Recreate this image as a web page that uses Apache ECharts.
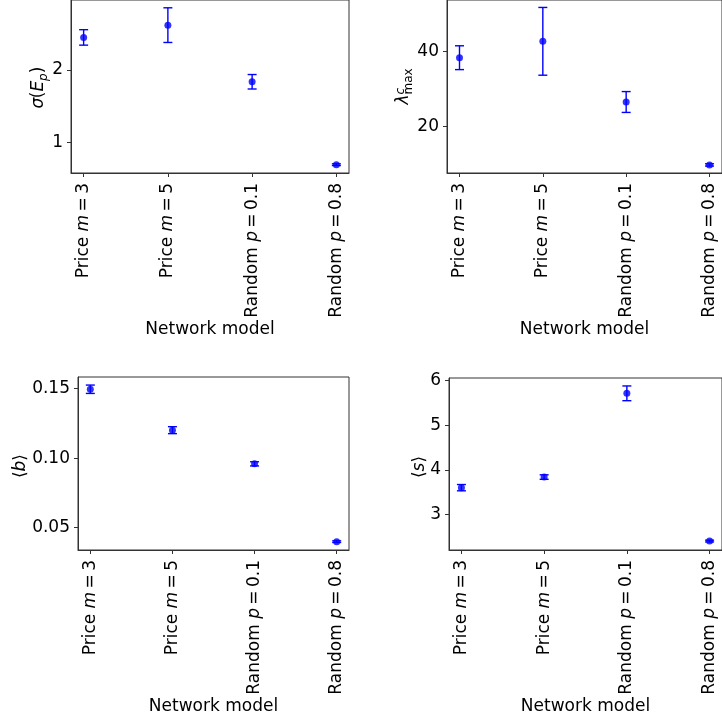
<!DOCTYPE html>
<html>
<head>
<meta charset="utf-8">
<script src="https://cdn.jsdelivr.net/npm/echarts@6/dist/echarts.min.js"></script>
<style>html,body{margin:0;padding:0;background:#fff;}#c{width:722px;height:719px;}</style>
</head>
<body>
<div id="c"></div>
<script>
// ---- data ----
const categories = ['Price m = 3', 'Price m = 5', 'Random p = 0.1', 'Random p = 0.8'];
const sigmaEp = [2.452, 2.622, 1.838, 0.69];
const sigmaEpErr = [0.107, 0.24, 0.10, 0.012];
const lambdaMax = [38.4, 42.8, 26.5, 9.6];
const lambdaMaxErr = [3.2, 9.1, 2.8, 0.3];
const meanB = [0.1495, 0.1201, 0.0959, 0.0400];
const meanBErr = [0.003, 0.0025, 0.0015, 0.0006];
const meanS = [3.605, 3.843, 5.717, 2.41];
const meanSErr = [0.07, 0.05, 0.165, 0.02];
const xTicks = [0, 1, 2, 3];
const sigmaTicks = [1, 2];
const lambdaTicks = [20, 40];
const bTicks = [0.05, 0.10, 0.15];
const sTicks = [3, 4, 5, 6];
const xLabel = 'Network model';

// ---- chart ----
const FONT = 'DejaVu Sans';
const BLUE = '#0000ff';
const AX = '#333333';

function catFmt(v) {
  const s = categories[Math.round(v)];
  const m = s.match(/^(\S+) (\S) = (.*)$/);
  return '{n|' + m[1] + ' }{i|' + m[2] + '}{n|\u2009=\u2009' + m[3] + '}';
}
const catRich = {
  n: {fontFamily: FONT, fontSize: 17, color: '#000'},
  i: {fontFamily: FONT, fontSize: 17, fontStyle: 'italic', color: '#000'}
};

const grids = [
  {left: 71, top: 0, width: 278, height: 173},
  {left: 447, top: 0, width: 284, height: 173},
  {left: 78, top: 377, width: 271, height: 173},
  {left: 449, top: 378, width: 282, height: 172}
];
const yCfg = [
  {min: 0.575, max: 2.97, ticks: sigmaTicks, fmt: v => String(Math.round(v))},
  {min: 7.43, max: 53.9, ticks: lambdaTicks, fmt: v => String(Math.round(v))},
  {min: 0.034, max: 0.1583, ticks: bTicks, fmt: v => v.toFixed(2)},
  {min: 2.21, max: 6.06, ticks: sTicks, fmt: v => String(Math.round(v))}
];
const vals = [sigmaEp, lambdaMax, meanB, meanS];
const errs = [sigmaEpErr, lambdaMaxErr, meanBErr, meanSErr];

const xAxes = grids.map((g, i) => ({
  type: 'value', gridIndex: i, min: -0.15, max: 3.15,
  name: xLabel, nameLocation: 'middle', nameGap: 145,
  nameTextStyle: {fontFamily: FONT, fontSize: 17, color: '#000'},
  axisLine: {show: true, onZero: false, lineStyle: {color: AX, width: 1}},
  axisTick: {show: true, inside: false, length: 4, customValues: xTicks, lineStyle: {color: AX}},
  axisLabel: {show: true, rotate: 90, margin: 10, customValues: xTicks, formatter: catFmt, rich: catRich},
  splitLine: {show: false}
}));
const yAxes = grids.map((g, i) => ({
  type: 'value', gridIndex: i, min: yCfg[i].min, max: yCfg[i].max,
  axisLine: {show: true, onZero: false, lineStyle: {color: AX, width: 1}},
  axisTick: {show: true, inside: false, length: 4, customValues: yCfg[i].ticks, lineStyle: {color: AX}},
  axisLabel: {show: true, margin: 8, customValues: yCfg[i].ticks, formatter: yCfg[i].fmt,
    fontFamily: FONT, fontSize: 17, color: '#000'},
  splitLine: {show: false}
}));

function errRender(params, api) {
  const x = api.value(0), y = api.value(1), e = api.value(2);
  const p1 = api.coord([x, y + e]);
  const p2 = api.coord([x, y - e]);
  const w = 4.5;
  const st = {stroke: BLUE, lineWidth: 1.4};
  return {type: 'group', children: [
    {type: 'line', shape: {x1: p1[0], y1: p1[1], x2: p2[0], y2: p2[1]}, style: st},
    {type: 'line', shape: {x1: p1[0] - w, y1: p1[1], x2: p1[0] + w, y2: p1[1]}, style: st},
    {type: 'line', shape: {x1: p2[0] - w, y1: p2[1], x2: p2[0] + w, y2: p2[1]}, style: st}
  ]};
}

const series = [];
vals.forEach((arr, i) => {
  series.push({
    type: 'custom', xAxisIndex: i, yAxisIndex: i, renderItem: errRender, silent: true,
    data: arr.map((v, k) => [xTicks[k], v, errs[i][k]]), z: 2
  });
  series.push({
    type: 'scatter', xAxisIndex: i, yAxisIndex: i, symbol: 'circle', symbolSize: 7,
    itemStyle: {color: BLUE}, silent: true,
    data: arr.map((v, k) => [xTicks[k], v]), z: 3
  });
});

function t(x, y, text, size, italic) {
  return {type: 'text', x: x, y: y, style: {text: text, fontFamily: FONT, fontSize: size,
    fontStyle: italic ? 'italic' : 'normal', fill: '#000', align: 'left', verticalAlign: 'middle'}};
}
function rotGroup(x, y, children) {
  return {type: 'group', x: x, y: y, rotation: Math.PI / 2, children: children};
}
const graphic = [
  rotGroup(39, 87.5, [
    t(-21, 0, 'σ', 17, true), t(-10.7, 0, '(', 17, false), t(-4.1, 0, 'E', 17, true),
    t(6.6, 5, 'p', 12, true), t(14.2, 0, ')', 17, false)
  ]),
  rotGroup(404, 87.5, [
    t(-17, 0, 'λ', 17, true), t(-7, 5, 'max', 12, false), t(-7, -3.5, 'c', 12, true)
  ]),
  rotGroup(21, 465, [
    t(-13, 0, '⟨', 17, false), t(-6.5, 0, 'b', 17, true), t(4.3, 0, '⟩', 17, false)
  ]),
  rotGroup(420, 466, [
    t(-12, 0, '⟨', 17, false), t(-5.5, 0, 's', 17, true), t(3.4, 0, '⟩', 17, false)
  ])
];

const chart = echarts.init(document.getElementById('c'), null, {renderer: 'canvas'});
chart.setOption({
  animation: false,
  backgroundColor: '#fff',
  grid: grids.map(g => Object.assign({show: true, borderColor: AX, borderWidth: 1, backgroundColor: 'transparent'}, g)),
  xAxis: xAxes,
  yAxis: yAxes,
  series: series,
  graphic: graphic
});
</script>
</body>
</html>
